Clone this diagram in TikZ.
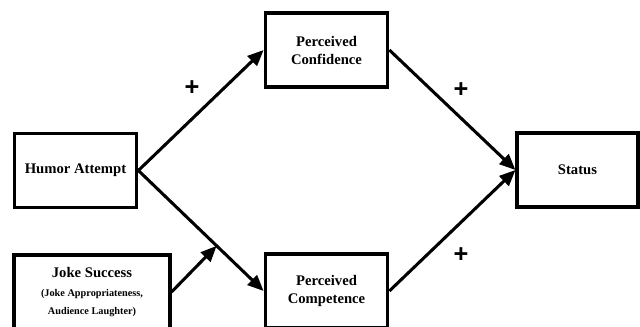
\documentclass[tikz,border=0pt]{standalone}
\usepackage{fontspec}
\setmainfont{Liberation Serif}
\newfontfamily\plusfont{Liberation Sans}
\usetikzlibrary{arrows.meta,calc}
\newcommand{\subsize}{\fontsize{7.7}{9.75}\selectfont}

\begin{document}
\begin{tikzpicture}[x=0.75pt,y=-0.75pt]
      \tikzset{box/.style={draw, rectangle, line width=2.3pt, inner sep=0pt, minimum width=92pt, minimum height=55.5pt, align=center, font=\bfseries\fontsize{11}{13.5}\selectfont},
               link/.style={line width=2.3pt, -{Triangle[length=12pt,width=10pt]}},
               sign/.style={font=\plusfont\bfseries\fontsize{19}{19}\selectfont}}
      \useasboundingbox (0,0) rectangle (640,326);
%% Boxes
      	\node[box] (humor) at (75.5,170.5) {Humor Attempt};
     	\node[box] (conf) at (326.5,50) {Perceived\\Confidence};
     	\node[box] (comp) at (326.5,291) {Perceived\\Competence};
     	\node[box, minimum width=90.75pt] (status) at (577.5,170) {Status};
     	\node[box, minimum width=117pt] (joke) at (92,292) {Joke Success\\[1pt]\subsize (Joke Appropriateness,\\\subsize Audience Laughter)};
%% Signs
      	\node[sign] (p1) at (192,88) {+};
      	\node[sign] (p2) at (461,90) {+};
      	\node[sign] (p3) at (461,255) {+};
%Edges
		\coordinate (mod) at ($(humor.east)!0.625!(comp.west)$);
		\path [link] (humor.east) edge (conf.west);
		\path [link] (humor.east) edge (comp.west);
		\path [link] (conf.east) edge (status.west);
		\path [link] (comp.east) edge (status.west);
		\path [link] (joke.east) edge (mod);

\end{tikzpicture}
\end{document}
